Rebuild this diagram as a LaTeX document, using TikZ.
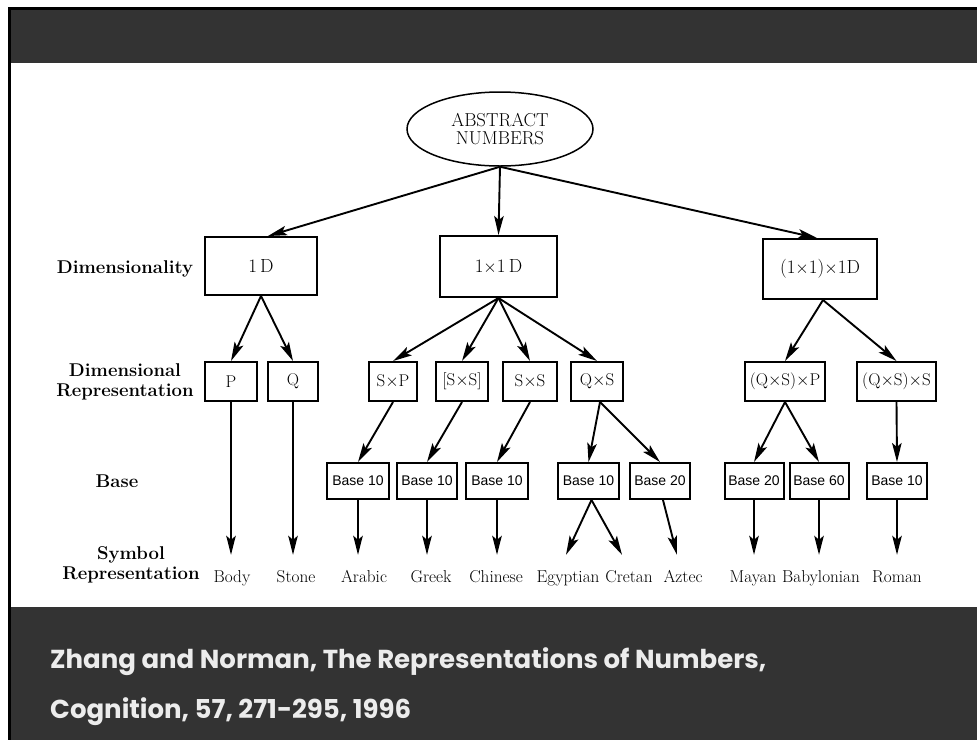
\documentclass[tikz,border=0pt]{standalone}
\usepackage{fontspec}
\usepackage{tikz}
\usetikzlibrary{arrows.meta,shapes.geometric}
\newfontfamily\basefont{Liberation Sans}
\newfontfamily\footfont{Poppins}
\definecolor{slidebar}{RGB}{51,51,51}
\definecolor{foottext}{RGB}{236,236,236}

\begin{document}
\begin{tikzpicture}[x=1pt,y=-1pt,>={Stealth[length=19pt,width=9.5pt,inset=4pt]},
  dimbox/.style={draw,line width=2pt,inner sep=0pt,font=\fontsize{19}{21}\selectfont},
  repbox/.style={draw,line width=2pt,inner sep=0pt,minimum height=39pt,
                 font=\fontsize{17}{19}\selectfont},
  basebox/.style={draw,line width=2pt,inner sep=0pt,minimum height=36pt,
                  font=\basefont\fontsize{14}{16}\selectfont},
  symlab/.style={inner sep=0pt,anchor=base,text height=27pt,text depth=4pt,
                 font=\fontsize{17.2}{19}\selectfont},
  rowlab/.style={align=center,inner sep=0pt,font=\bfseries\fontsize{18.5}{20}\selectfont},
  arr/.style={->,line width=1.9pt}]
  \useasboundingbox (0,0) rectangle (977,740);
  % slide frame
  \fill[slidebar] (11,10) rectangle (977,63);
  \fill[slidebar] (11,607) rectangle (977,740);
  \fill[black] (8,7) rectangle (977,10);
  \fill[black] (8,7) rectangle (11,740);

  \node[draw,ellipse,line width=1.5pt,minimum width=186pt,minimum height=74pt,inner sep=0pt,
        align=center,font=\fontsize{18.7}{18}\selectfont] (abs) at (500,129) {ABSTRACT\\NUMBERS};

  % row labels
  \node[rowlab] (rdim) at (125,269) {Dimensionality};
  \node[rowlab] (rrep) at (125,382) {Dimensional\\Representation};
  \node[rowlab] (rbase) at (117,481) {Base};
  \node[rowlab] (rsym) at (131,565) {Symbol\\Representation};

  % dimensionality
  \node[dimbox,minimum width=112pt,minimum height=58pt] (d1) at (261,266) {1\,D};
  \node[dimbox,minimum width=117pt,minimum height=61pt] (d2) at (498.5,266.5) {1$\times$1\,D};
  \node[dimbox,minimum width=114pt,minimum height=60pt] (d3) at (820,269) {(1$\times$1)$\times$1D};

  % dimensional representation
  \node[repbox,minimum width=52pt] (p) at (231,381.5) {P};
  \node[repbox,minimum width=50pt] (q) at (293,381.5) {Q};
  \node[repbox,minimum width=48pt] (sp) at (393,381.5) {S$\times$P};
  \node[repbox,minimum width=52pt] (ssb) at (462,381.5) {[S$\times$S]};
  \node[repbox,minimum width=54pt] (ss) at (530,381.5) {S$\times$S};
  \node[repbox,minimum width=52pt] (qs) at (597,381.5) {Q$\times$S};
  \node[repbox,minimum width=80pt] (qsp) at (785,381.5) {(Q$\times$S)$\times$P};
  \node[repbox,minimum width=79pt] (qss) at (896.5,381.5) {(Q$\times$S)$\times$S};

  % base
  \node[basebox,minimum width=62pt] (b1) at (358,481) {Base 10};
  \node[basebox,minimum width=60pt] (b2) at (427,481) {Base 10};
  \node[basebox,minimum width=62pt] (b3) at (497,481) {Base 10};
  \node[basebox,minimum width=61pt] (b4) at (588.5,481) {Base 10};
  \node[basebox,minimum width=60pt] (b5) at (660,481) {Base 20};
  \node[basebox,minimum width=59pt] (b6) at (754,481) {Base 20};
  \node[basebox,minimum width=59pt] (b7) at (819,481) {Base 60};
  \node[basebox,minimum width=60pt] (b8) at (897,481) {Base 10};

  % symbol representation
  \node[symlab] (body) at (232,582) {Body};
  \node[symlab] (stone) at (296,582) {Stone};
  \node[symlab] (arabic) at (364,582) {Arabic};
  \node[symlab] (greek) at (431,582) {Greek};
  \node[symlab] (chinese) at (496,582) {Chinese};
  \node[symlab] (egypt) at (568,582) {Egyptian};
  \node[symlab] (cretan) at (629,582) {Cretan};
  \node[symlab] (aztec) at (683,582) {Aztec};
  \node[symlab] (mayan) at (753,582) {Mayan};
  \node[symlab] (babyl) at (821,582) {Babylonian};
  \node[symlab] (roman) at (897,582) {Roman};

  \draw[arr] (abs.south) -- ([xshift=7pt]d1.north);
  \draw[arr] (abs.south) -- (d2.north);
  \draw[arr] (abs.south) -- ([xshift=-3pt]d3.north);

  \draw[arr] (d1.south) -- (p.north);
  \draw[arr] (d1.south) -- (q.north);
  \draw[arr] (d2.south) -- (sp.north);
  \draw[arr] (d2.south) -- (ssb.north);
  \draw[arr] (d2.south) -- (ss.north);
  \draw[arr] (d2.south) -- (qs.north);
  \draw[arr] ([xshift=3pt]d3.south) -- (qsp.north);
  \draw[arr] ([xshift=3pt]d3.south) -- (qss.north);

  \draw[arr] (p.south) -- (body.north -| p.south);
  \draw[arr] (q.south) -- (stone.north -| q.south);
  \draw[arr] (sp.south) -- (b1.north);
  \draw[arr] (ssb.south) -- (b2.north);
  \draw[arr] (ss.south) -- (b3.north);
  \draw[arr] ([xshift=3pt]qs.south) -- (b4.north);
  \draw[arr] ([xshift=3pt]qs.south) -- (b5.north);
  \draw[arr] (qsp.south) -- (b6.north);
  \draw[arr] (qsp.south) -- (b7.north);
  \draw[arr] (qss.south) -- (b8.north);

  \draw[arr] (b1.south) -- (arabic.north -| b1.south);
  \draw[arr] (b2.south) -- (greek.north -| b2.south);
  \draw[arr] (b3.south) -- (chinese.north -| b3.south);
  \draw[arr] ([xshift=3pt]b4.south) -- ([xshift=-2pt]egypt.north);
  \draw[arr] ([xshift=3pt]b4.south) -- ([xshift=-7pt]cretan.north);
  \draw[arr] ([xshift=3pt]b5.south) -- ([xshift=-6pt]aztec.north);
  \draw[arr] (b6.south) -- (mayan.north -| b6.south);
  \draw[arr] (b7.south) -- (babyl.north -| b7.south);
  \draw[arr] (b8.south) -- (roman.north -| b8.south);

  % citation
  \node[anchor=base west,inner sep=0pt,text=foottext,font=\footfont\bfseries\fontsize{26}{28}\selectfont]
    (cite1) at (50,668) {Zhang and Norman, The Representations of Numbers,};
  \node[anchor=base west,inner sep=0pt,text=foottext,font=\footfont\bfseries\fontsize{26}{28}\selectfont]
    (cite2) at (50,718) {Cognition, 57, 271-295, 1996};
\end{tikzpicture}
\end{document}
